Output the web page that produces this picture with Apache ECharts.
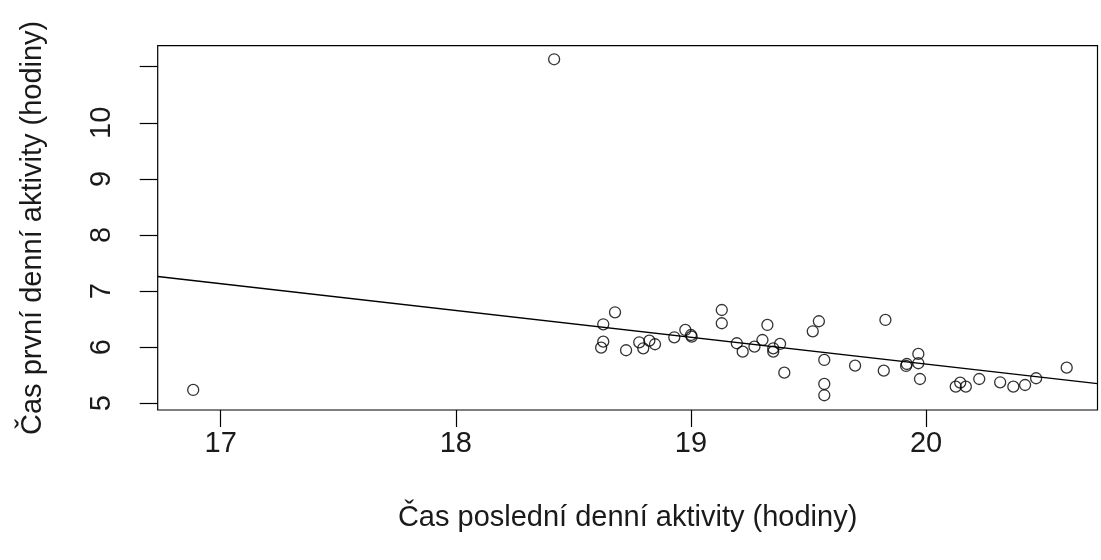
<!DOCTYPE html>
<html>
<head>
<meta charset="utf-8">
<script src="https://cdn.jsdelivr.net/npm/echarts@6/dist/echarts.min.js"></script>
<style>
html,body{margin:0;padding:0;background:#fff;}
#chart{width:1101px;height:560px;}
</style>
</head>
<body>
<div id="chart"></div>
<script>
// Data
const lastActivity = [16.883, 18.418, 18.627, 18.618, 18.627, 18.677, 18.724, 18.780, 18.797, 18.823,
  18.847, 18.929, 18.976, 19.000, 19.003, 19.131, 19.131, 19.195, 19.220, 19.270,
  19.304, 19.325, 19.350, 19.350, 19.379, 19.397, 19.518, 19.544, 19.567, 19.567,
  19.567, 19.698, 19.827, 19.820, 19.918, 19.915, 19.967, 19.967, 19.974, 20.126,
  20.145, 20.169, 20.226, 20.315, 20.371, 20.421, 20.468, 20.598];
const firstActivity = [5.237, 11.132, 6.098, 5.991, 6.408, 6.622, 5.945, 6.087, 5.980, 6.116,
  6.052, 6.176, 6.307, 6.217, 6.187, 6.663, 6.426, 6.070, 5.920, 6.009,
  6.128, 6.396, 5.980, 5.920, 6.057, 5.545, 6.283, 6.462, 5.772, 5.344,
  5.143, 5.670, 6.485, 5.581, 5.700, 5.665, 5.879, 5.713, 5.433, 5.296,
  5.367, 5.296, 5.433, 5.374, 5.296, 5.326, 5.446, 5.635];
// Regression line ends
const fitX = [16.732, 20.729];
const fitY = [7.26, 5.35];
const xTicks = [17, 18, 19, 20];
const yTicks = [5, 6, 7, 8, 9, 10, 11];
const yTickLabels = [5, 6, 7, 8, 9, 10];
const xTitle = 'Čas poslední denní aktivity (hodiny)';
const yTitle = 'Čas první denní aktivity (hodiny)';

const font = 'Liberation Sans, Arial, sans-serif';
const textColor = '#1a1a1a';
const chart = echarts.init(document.getElementById('chart'), null, {renderer: 'canvas'});
chart.setOption({
  animation: false,
  backgroundColor: '#fff',
  grid: {left: 157.7, right: 3.5, top: 45.7, bottom: 150, show: true, borderColor: '#000', borderWidth: 1.2, backgroundColor: 'transparent', containLabel: false},
  xAxis: {
    type: 'value', min: 16.732, max: 20.729,
    splitLine: {show: false},
    axisLine: {show: false},
    axisTick: {show: true, inside: false, length: 17, lineStyle: {color: '#000', width: 1.2}, customValues: xTicks},
    axisLabel: {color: textColor, fontFamily: font, fontSize: 29, margin: 19, customValues: xTicks},
    name: xTitle, nameLocation: 'middle', nameGap: 93,
    nameTextStyle: {color: textColor, fontFamily: font, fontSize: 29}
  },
  yAxis: {
    type: 'value', min: 4.88, max: 11.374,
    splitLine: {show: false},
    axisLine: {show: false},
    axisTick: {show: true, inside: false, length: 18, lineStyle: {color: '#000', width: 1.2}, customValues: yTicks},
    axisLabel: {color: textColor, fontFamily: font, fontSize: 29, margin: 41, rotate: 90, customValues: yTickLabels},
    name: yTitle, nameLocation: 'middle', nameGap: 110, nameRotate: 90,
    nameTextStyle: {color: textColor, fontFamily: font, fontSize: 29}
  },
  series: [
    {
      type: 'scatter',
      data: lastActivity.map((x, i) => [x, firstActivity[i]]),
      symbol: 'circle', symbolSize: 11,
      itemStyle: {color: 'rgba(0,0,0,0)', borderColor: '#000', borderWidth: 1.3},
      silent: true
    },
    {
      type: 'line',
      data: fitX.map((x, i) => [x, fitY[i]]),
      showSymbol: false, symbol: 'none',
      lineStyle: {color: '#000', width: 1.4},
      silent: true
    }
  ]
});
</script>
</body>
</html>
